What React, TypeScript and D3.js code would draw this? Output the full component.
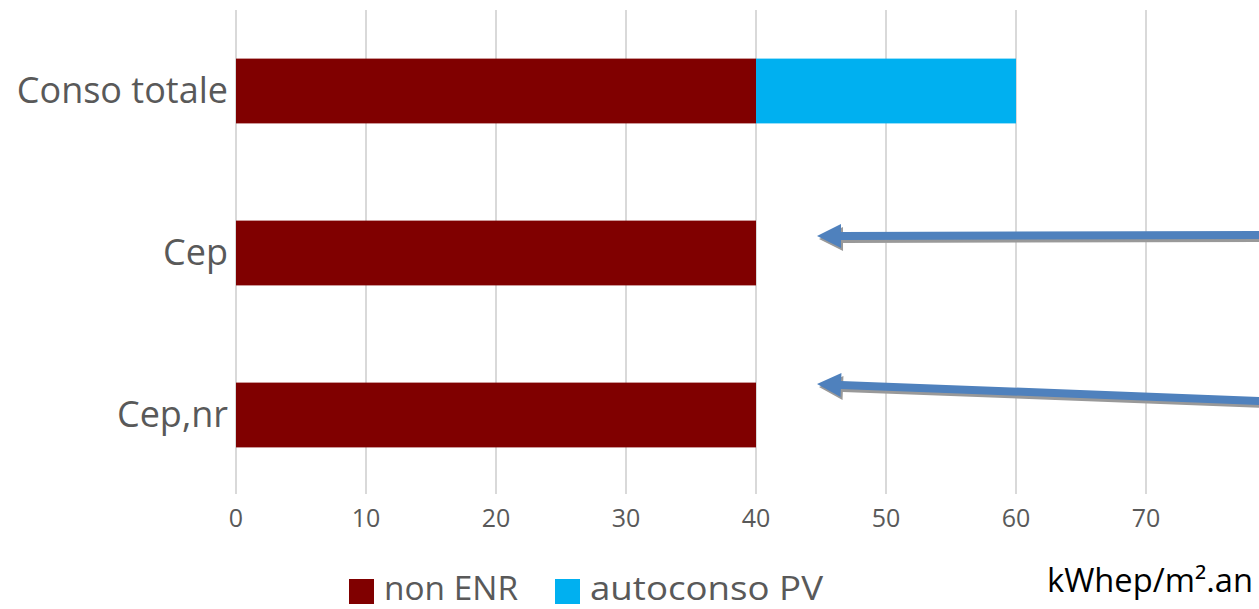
import React from "react";
import * as d3 from "d3";

const categories = ["Conso totale", "Cep", "Cep,nr"];
const nonENR = [40, 40, 40];
const autoconsoPV = [20, 0, 0];
const ticks = [0, 10, 20, 30, 40, 50, 60, 70];
const seriesNames = ["non ENR", "autoconso PV"];
const seriesColors = ["#800000", "#00B0F0"];
const unitLabel = "kWhep/m².an";

const W = 1259;
const H = 609;
const FONT = "'Open Sans', 'Liberation Sans', sans-serif";

export default function App() {
  const x = d3.scaleLinear().domain([0, 70]).range([236, 1146]);
  const y = d3
    .scaleBand<string>()
    .domain(categories)
    .range([10, 496])
    .paddingInner(0.6)
    .paddingOuter(0.3);

  const stack = categories.map((c, i) => {
    const segs: { x0: number; x1: number; color: string }[] = [];
    let acc = 0;
    [nonENR[i], autoconsoPV[i]].forEach((v, k) => {
      if (v > 0) segs.push({ x0: acc, x1: acc + v, color: seriesColors[k] });
      acc += v;
    });
    return { c, segs };
  });

  const arrowColor = "#4F81BD";
  const shadow = "#999999";
  const arrows = [
    { x1: 1262, y1: 235, x2: 817, y2: 236 },
    { x1: 1262, y1: 401, x2: 817, y2: 384 },
  ];

  const arrowPath = (a: { x1: number; y1: number; x2: number; y2: number }) => {
    const ang = Math.atan2(a.y1 - a.y2, a.x1 - a.x2);
    const ux = Math.cos(ang), uy = Math.sin(ang);
    const px = -uy, py = ux;
    const hl = 24, hw = 12, sw = 4;
    const bx = a.x2 + ux * hl, by = a.y2 + uy * hl;
    const pts = [
      [a.x2, a.y2],
      [bx + px * hw, by + py * hw],
      [bx + px * sw, by + py * sw],
      [a.x1 + px * sw, a.y1 + py * sw],
      [a.x1 - px * sw, a.y1 - py * sw],
      [bx - px * sw, by - py * sw],
      [bx - px * hw, by - py * hw],
    ];
    return "M" + pts.map((p) => p.join(",")).join("L") + "Z";
  };

  const legendX = [349, 555];
  const legendLen = [134, 233];

  return (
    <svg width={W} height={H} style={{ position: "absolute", left: 0, top: 0 }}>
      <rect width={W} height={H} fill="#fff" />
      {ticks.map((t) => (
        <line key={t} x1={x(t)} x2={x(t)} y1={10} y2={494} stroke="#D9D9D9" strokeWidth={2} />
      ))}
      {stack.map(({ c, segs }) =>
        segs.map((s, k) => (
          <rect
            key={c + k}
            x={x(s.x0)}
            y={y(c)}
            width={x(s.x1) - x(s.x0)}
            height={y.bandwidth()}
            fill={s.color}
          />
        ))
      )}
      {categories.map((c) => (
        <text
          key={c}
          x={228}
          y={(y(c) as number) + y.bandwidth() / 2}
          dy="0.33em"
          textAnchor="end"
          fontFamily={FONT}
          fontSize={36}
          fill="#595959"
        >
          {c}
        </text>
      ))}
      {ticks.map((t) => (
        <text
          key={t}
          x={x(t)}
          y={527}
          textAnchor="middle"
          fontFamily={FONT}
          fontSize={25}
          fill="#595959"
        >
          {t}
        </text>
      ))}
      {arrows.map((a, i) => (
        <g key={i}>
          <path d={arrowPath(a)} fill={shadow} transform="translate(2,3)" />
          <path d={arrowPath(a)} fill={arrowColor} />
        </g>
      ))}
      {seriesNames.map((n, i) => {
        const lx = legendX[i];
        return (
          <g key={n}>
            <rect x={lx} y={579} width={25} height={25} fill={seriesColors[i]} />
            <text
              x={lx + 35}
              y={600}
              fontFamily={FONT}
              fontSize={32}
              fill="#595959"
              textLength={legendLen[i]}
              lengthAdjust="spacingAndGlyphs"
            >
              {n}
            </text>
          </g>
        );
      })}
      <text x={1047} y={592} fontFamily={FONT} fontSize={32} fill="#000" textLength={206} lengthAdjust="spacingAndGlyphs">
        {unitLabel}
      </text>
    </svg>
  );
}
